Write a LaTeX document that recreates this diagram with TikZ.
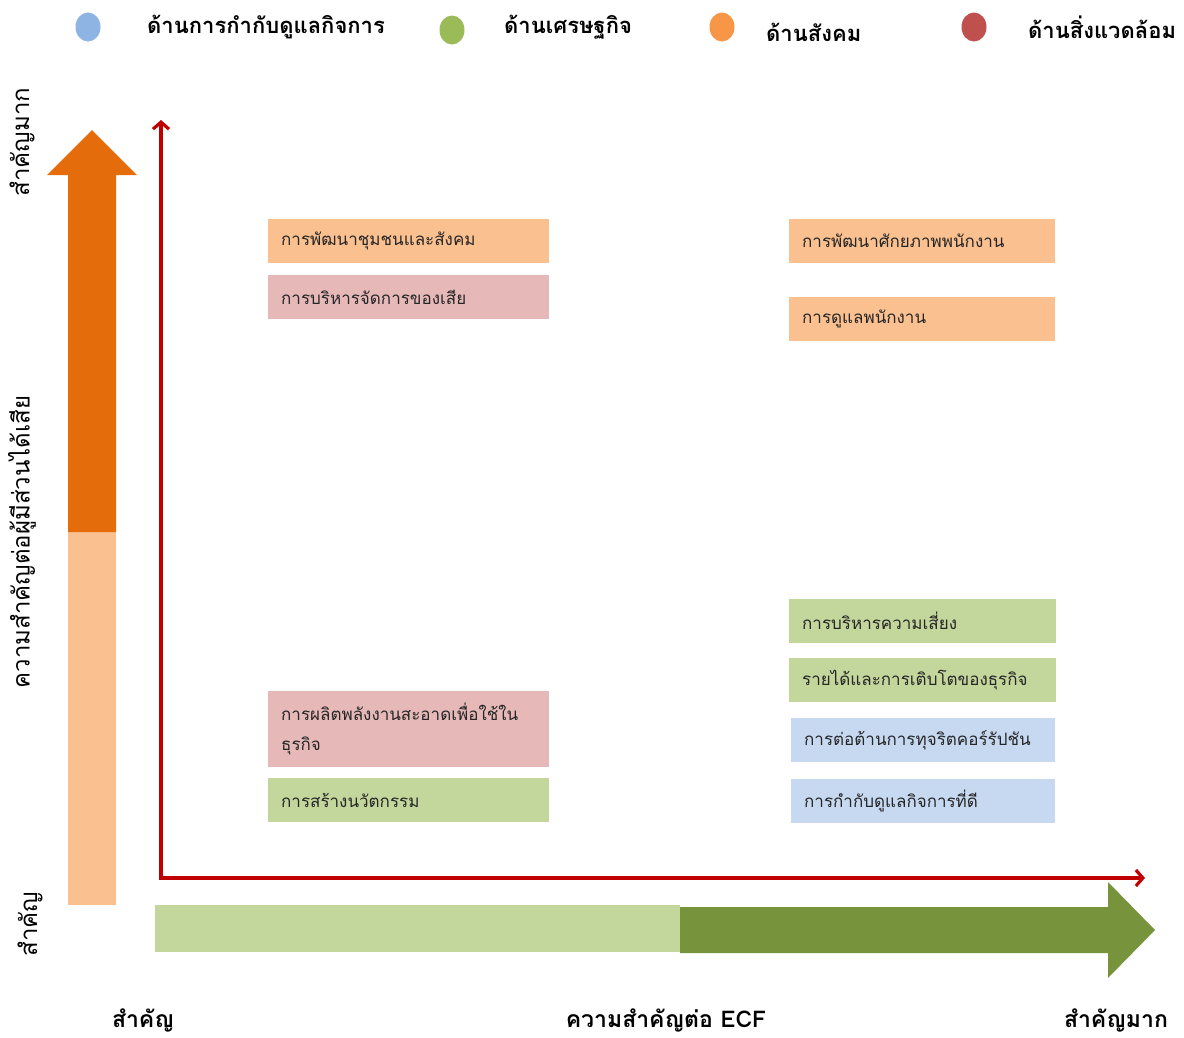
\documentclass[tikz,border=0pt]{standalone}
\usepackage{fontspec}
\newfontfamily\thaifont[Script=Thai]{Loma}
\usetikzlibrary{arrows.meta,positioning,shapes.geometric}

\definecolor{govblue}{HTML}{8DB4E2}
\definecolor{ecogreen}{HTML}{9BBB59}
\definecolor{socorange}{HTML}{F79646}
\definecolor{envred}{HTML}{C0504D}
\definecolor{boxorange}{HTML}{FAC090}
\definecolor{boxpink}{HTML}{E6B9B8}
\definecolor{boxgreen}{HTML}{C3D69B}
\definecolor{boxblue}{HTML}{C6D9F1}
\definecolor{darkorange}{HTML}{E46C0A}
\definecolor{darkgreen}{HTML}{77933C}
\definecolor{axisred}{HTML}{C00000}

\tikzset{
  legdot/.style={ellipse, minimum width=25pt, minimum height=29pt, inner sep=0pt},
  legtext/.style={anchor=west, inner sep=0pt, font=\thaifont\bfseries\fontsize{22}{26}\selectfont},
  topic/.style={anchor=north west, minimum height=44pt, inner xsep=13pt, inner ysep=4pt,
    text width=255pt, align=left, text=black!85,
    font=\thaifont\fontsize{17}{30}\selectfont},
  axislabel/.style={inner sep=0pt, font=\thaifont\bfseries\fontsize{23}{27}\selectfont},
  sidelabel/.style={rotate=90, inner sep=0pt, font=\thaifont\fontsize{24}{28}\selectfont},
  axis/.style={draw=axisred, line width=3.2pt, {Straight Barb[length=7pt,width=16pt]}-{Straight Barb[length=7pt,width=16pt]}}
}

\begin{document}
\begin{tikzpicture}[x=1pt,y=-1pt]
  \useasboundingbox (0,0) rectangle (1184,1037);

  %% legend
  \node[legdot, fill=govblue] (dgov) at (88,27) {};
  \node[legtext] (lgov) at (147,27) {ด้านการกำกับดูแลกิจการ};
  \node[legdot, fill=ecogreen] (deco) at (452,30) {};
  \node[legtext] (leco) at (504,27) {ด้านเศรษฐกิจ};
  \node[legdot, fill=socorange] (dsoc) at (722,27) {};
  \node[legtext] (lsoc) at (766,32) {ด้านสังคม};
  \node[legdot, fill=envred] (denv) at (974,27) {};
  \node[legtext] (lenv) at (1028,27) {ด้านสิ่งแวดล้อม};

  %% stakeholder arrow (vertical)
  \fill[boxorange] (68,532) rectangle (116,905);
  \fill[darkorange] (68,532) -- (68,175) -- (47,175) -- (92,130) -- (137,175) -- (116,175) -- (116,532) -- cycle;

  %% ECF arrow (horizontal)
  \fill[boxgreen] (155,905) rectangle (680,952);
  \fill[darkgreen] (680,907) -- (1108,907) -- (1108,882) -- (1155,930) -- (1108,978) -- (1108,953) -- (680,953) -- cycle;

  %% axes
  \coordinate (ytop) at (161,120);
  \coordinate (O) at (161,878);
  \coordinate (xend) at (1145,878);
  \draw[axis] (ytop) -- (O) -- (xend);

  %% side labels
  \node[sidelabel] (vhigh) at (22,142) {สำคัญมาก};
  \node[sidelabel] (vname) at (22,542) {ความสำคัญต่อผู้มีส่วนได้เสีย};
  \node[sidelabel] (vlow) at (30,924) {สำคัญ};

  %% bottom labels
  \node[axislabel] (hlow) at (143,1020) {สำคัญ};
  \node[axislabel] (hname) at (666,1020) {ความสำคัญต่อ ECF};
  \node[axislabel] (hhigh) at (1116,1020) {สำคัญมาก};

  %% topics, left column
  \node[topic, fill=boxorange] (community) at (268,219) {การพัฒนาชุมชนและสังคม};
  \node[topic, fill=boxpink] (waste) at (268,275) {การบริหารจัดการของเสีย};
  \node[topic, fill=boxpink, minimum height=76pt] (energy) at (268,691) {การผลิตพลังงานสะอาดเพื่อใช้ใน\\ธุรกิจ};
  \node[topic, fill=boxgreen] (innovation) at (268,778) {การสร้างนวัตกรรม};

  %% topics, right column
  \node[topic, fill=boxorange, text width=240pt] (talent) at (789,219) {การพัฒนาศักยภาพพนักงาน};
  \node[topic, fill=boxorange, text width=240pt] (staff) at (789,297) {การดูแลพนักงาน};
  \node[topic, fill=boxgreen, text width=241pt] (risk) at (789,599) {การบริหารความเสี่ยง};
  \node[topic, fill=boxgreen, text width=241pt] (growth) at (789,658) {รายได้และการเติบโตของธุรกิจ};
  \node[topic, fill=boxblue, text width=238pt] (anticorr) at (791,718) {การต่อต้านการทุจริตคอร์รัปชัน};
  \node[topic, fill=boxblue, text width=238pt] (cg) at (791,779) {การกำกับดูแลกิจการที่ดี};
\end{tikzpicture}
\end{document}
